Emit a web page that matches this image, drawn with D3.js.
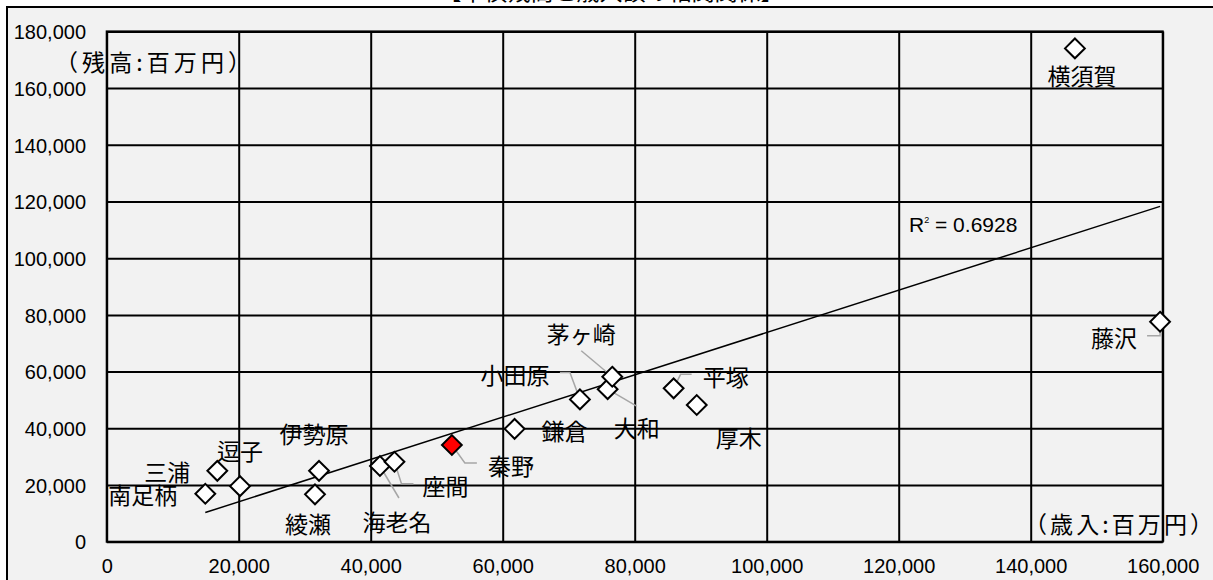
<!DOCTYPE html>
<html><head><meta charset="utf-8">
<script src="https://cdn.jsdelivr.net/npm/d3@7"></script>
<style>
html,body{margin:0;padding:0;background:#fff;overflow:hidden;}
svg{display:block;}
.cjk{font-family:"Noto Sans CJK JP","Noto Sans",sans-serif;}
</style></head>
<body>
<svg id="chart" width="1213" height="580"></svg>
<script>
// ---- data (values in 百万円) ----
const cities  = ["南足柄","三浦","逗子","伊勢原","綾瀬","海老名","座間","秦野","鎌倉","小田原","大和","茅ヶ崎","平塚","厚木","藤沢","横須賀"];
const revenue = [14940,16760,20200,32170,31560,41400,43600,52300,61800,71700,75900,76600,85900,89400,159600,146700];
const debt    = [16900,25000,19600,25000,16700,26700,28200,34100,39800,50200,53800,58200,54100,48200,77600,174000];
const highlightCity = "秦野";
const xTicks = [0,20000,40000,60000,80000,100000,120000,140000,160000];
const yTicks = [0,20000,40000,60000,80000,100000,120000,140000,160000,180000];
const titleText = "【市債残高と歳入額の相関関係】";
const yTitle = "（残高:百万円）";
const xTitle = "（歳入:百万円）";
const r2Text = "0.6928";

// ---- layout (label offsets relative to each point, px) ----
const labelLayout = {
  "南足柄":{dx:-28,dy:0,anchor:"end"},
  "三浦":{dx:-27,dy:0,anchor:"end"},
  "逗子":{dx:0,dy:-36},
  "伊勢原":{dx:-5,dy:-38},
  "綾瀬":{dx:-7,dy:29},
  "海老名":{dx:17,dy:55,leader:[[0,0],[19,32]]},
  "座間":{dx:51,dy:23,leader:[[0,0],[7,22],[19,22]]},
  "秦野":{dx:59,dy:20,leader:[[0,0],[13,18],[25,18]]},
  "鎌倉":{dx:50,dy:1},
  "小田原":{dx:-65,dy:-25,leader:[[0,0],[-10,-27],[-20,-27]]},
  "大和":{dx:29,dy:38,leader:[[0,0],[29,17]]},
  "茅ヶ崎":{dx:-31,dy:-44,leader:[[0,0],[-31,-26]]},
  "平塚":{dx:52,dy:-12,leader:[[0,0],[7,-14],[18,-14]]},
  "厚木":{dx:42,dy:32},
  "藤沢":{dx:-46,dy:15,leader:[[0,0],[0,14],[-13,14]]},
  "横須賀":{dx:7,dy:27}
};

const svg = d3.select("#chart");
const L = 106.7, R = 1162.7, T = 31.4, B = 541.7;
const x = d3.scaleLinear().domain([0,160000]).range([L,R]);
const y = d3.scaleLinear().domain([0,180000]).range([B,T]);

// title (cropped at top)
svg.append("text").attr("class","cjk").attr("x",611).attr("y",0)
  .attr("text-anchor","middle").attr("font-size",23).attr("fill","#000").text(titleText);

// chart frame
svg.append("rect").attr("x",7).attr("y",7).attr("width",1300).attr("height",700)
  .attr("fill","#f2f2f2").attr("stroke","#000").attr("stroke-width",2);

// gridlines via axes
const gx = svg.append("g").attr("transform",`translate(0,${B})`)
  .call(d3.axisBottom(x).tickValues(xTicks).tickSize(-(B-T)).tickFormat(""));
const gy = svg.append("g").attr("transform",`translate(${L},0)`)
  .call(d3.axisLeft(y).tickValues(yTicks).tickSize(-(R-L)).tickFormat(""));
[gx,gy].forEach(g=>{
  g.select(".domain").remove();
  g.selectAll(".tick line").attr("stroke","#000").attr("stroke-width",2);
});
svg.append("rect").attr("x",L).attr("y",T).attr("width",R-L).attr("height",B-T)
  .attr("fill","none").attr("stroke","#000").attr("stroke-width",2);

// tick labels via axes
const fmt = d3.format(",");
const lx = svg.append("g").attr("transform",`translate(0,${B})`)
  .call(d3.axisBottom(x).tickValues(xTicks).tickSize(0).tickPadding(0).tickFormat(fmt));
lx.select(".domain").remove();
lx.selectAll("text").attr("font-size",20).attr("fill","#000")
  .attr("dy",null).attr("y",31.5).attr("font-family","Liberation Sans, Arial, sans-serif");
const ly = svg.append("g").attr("transform",`translate(86,0)`)
  .call(d3.axisLeft(y).tickValues(yTicks).tickSize(0).tickPadding(0).tickFormat(fmt));
ly.select(".domain").remove();
ly.selectAll("text").attr("font-size",20).attr("fill","#000").attr("dy","0.36em")
  .attr("font-family","Liberation Sans, Arial, sans-serif");

// axis titles
svg.append("text").attr("class","cjk").attr("x",55).attr("y",71).attr("font-size",23)
  .attr("textLength",196).attr("lengthAdjust","spacing").attr("fill","#000").text(yTitle);
svg.append("text").attr("class","cjk").attr("x",1024).attr("y",533).attr("font-size",23)
  .attr("textLength",189).attr("lengthAdjust","spacing").attr("fill","#000").text(xTitle);

// linear regression trendline
const n = revenue.length;
const mx = d3.mean(revenue), my = d3.mean(debt);
let sxy=0, sxx=0;
for(let i=0;i<n;i++){const a=revenue[i]-mx,b=debt[i]-my;sxy+=a*b;sxx+=a*a;}
const slope = sxy/sxx, icpt = my - slope*mx;
const [xmin,xmax] = d3.extent(revenue);
svg.append("line").attr("x1",x(xmin)).attr("y1",y(slope*xmin+icpt))
  .attr("x2",x(xmax)).attr("y2",y(slope*xmax+icpt))
  .attr("stroke","#000").attr("stroke-width",1.5);

// R² label
const rt = svg.append("text").attr("x",909).attr("y",232).attr("font-size",21)
  .attr("font-family","Liberation Sans, Arial, sans-serif").attr("fill","#000");
rt.append("tspan").text("R");
rt.append("tspan").attr("font-size",9).attr("dy",-9).text("2");
rt.append("tspan").attr("dy",9).text(" = " + r2Text);

const pts = cities.map((c,i)=>({c, px:x(revenue[i]), py:y(debt[i])}));

// leader lines
const line = d3.line();
svg.append("g").selectAll("path").data(pts.filter(p=>labelLayout[p.c].leader)).join("path")
  .attr("d",p=>line(labelLayout[p.c].leader.map(([a,b])=>[p.px+a,p.py+b])))
  .attr("fill","none").attr("stroke","#a6a6a6").attr("stroke-width",1.5);

// markers
const sym = d3.symbol(d3.symbolDiamond2, 250);
svg.append("g").selectAll("path").data(pts).join("path")
  .attr("d",sym).attr("transform",p=>`translate(${p.px},${p.py})`)
  .attr("fill",p=>p.c===highlightCity?"#ff0000":"#fff")
  .attr("stroke","#000").attr("stroke-width",2);

// data labels
svg.append("g").selectAll("text").data(pts).join("text").attr("class","cjk")
  .attr("x",p=>p.px+labelLayout[p.c].dx).attr("y",p=>p.py+labelLayout[p.c].dy)
  .attr("text-anchor",p=>labelLayout[p.c].anchor||"middle")
  .attr("dominant-baseline","central").attr("font-size",23).attr("fill","#000")
  .text(p=>p.c);
</script>
</body></html>
